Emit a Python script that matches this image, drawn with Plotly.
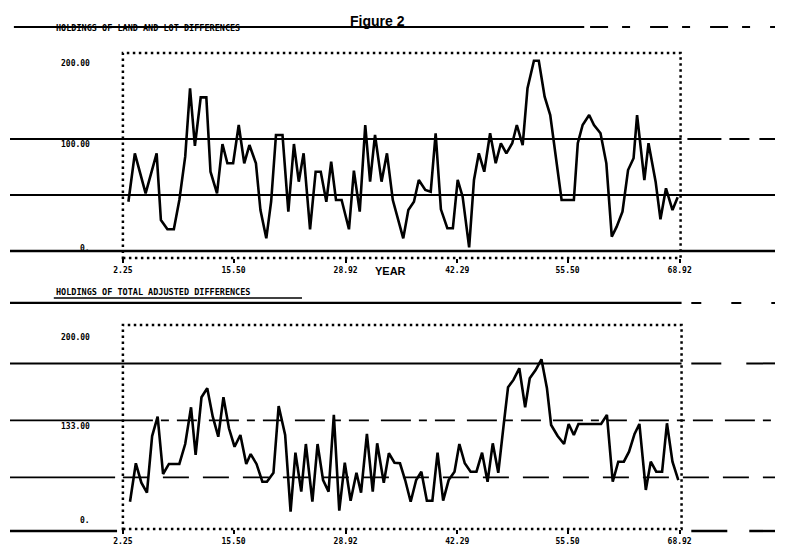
import plotly.graph_objects as go

# ---- data -------------------------------------------------------------
top_year = [2.91, 3.68, 4.97, 6.29, 6.80, 7.58, 8.35, 9.01, 9.71, 10.29,
            10.87, 11.57, 12.24, 12.74, 13.52, 14.17, 14.76, 15.45, 16.12, 16.78,
            17.40, 18.18, 18.72, 19.42, 20.00, 20.58, 21.36, 22.06, 22.73, 23.31,
            23.89, 24.66, 25.33, 25.94, 26.61, 27.19, 27.77, 28.44, 29.32, 29.91,
            30.61, 31.27, 31.85, 32.44, 33.22, 33.87, 34.57, 35.18, 35.82, 36.43,
            37.10, 37.68, 38.46, 39.11, 39.70, 40.33, 41.10, 41.76, 42.34, 42.93,
            43.71, 44.29, 44.87, 45.52, 46.22, 46.89, 47.51, 48.17, 48.87, 49.42,
            50.12, 50.70, 51.47, 52.05, 52.75, 53.42, 54.20, 54.78, 55.48, 56.25,
            56.72, 57.30, 58.08, 58.66, 59.44, 60.14, 60.79, 61.38, 62.07, 62.74,
            63.40, 63.82, 64.69, 65.19, 66.04, 66.62, 67.28, 68.06, 68.68]
top_value = [44.0, 87.2, 51.5, 87.2, 27.7, 19.4, 19.4, 45.5, 84.2, 145.3,
             93.8, 137.2, 137.2, 70.8, 51.5, 95.5, 78.3, 78.3, 112.5, 78.3,
             94.6, 78.3, 36.6, 11.3, 44.0, 103.6, 103.6, 35.1, 95.5, 61.9,
             87.2, 19.4, 70.8, 70.8, 44.0, 79.7, 45.5, 45.5, 19.4, 71.7,
             35.1, 112.5, 61.9, 103.6, 61.9, 87.2, 45.5, 27.7, 11.3, 36.6,
             44.0, 63.4, 54.5, 52.9, 105.1, 37.2, 20.3, 20.3, 63.4, 48.5,
             3.3, 63.4, 87.2, 70.8, 105.1, 78.3, 96.2, 87.2, 96.2, 112.5,
             94.6, 145.3, 169.9, 169.9, 137.8, 121.4, 79.7, 45.5, 45.5, 45.5,
             96.2, 112.5, 121.4, 112.5, 105.1, 78.3, 12.8, 21.7, 35.1, 72.3,
             82.8, 121.4, 63.4, 96.2, 61.9, 28.3, 56.0, 36.6, 47.9]

bottom_year = [3.10, 3.80, 4.46, 5.13, 5.75, 6.41, 7.06, 7.76, 8.35, 9.01,
               9.71, 10.41, 10.96, 11.66, 12.35, 13.01, 13.67, 14.29, 14.95, 15.62,
               16.32, 17.02, 17.55, 18.25, 18.95, 19.50, 20.28, 20.90, 21.68, 22.33,
               22.91, 23.61, 24.16, 24.94, 25.56, 26.22, 26.88, 27.51, 28.16, 28.82,
               29.52, 30.22, 30.77, 31.47, 32.17, 32.70, 33.49, 34.10, 34.77, 35.43,
               36.05, 36.71, 37.37, 37.99, 38.65, 39.31, 39.93, 40.60, 41.26, 41.96,
               42.54, 43.19, 43.89, 44.59, 45.26, 45.92, 46.54, 47.20, 47.86, 48.37,
               49.02, 49.72, 50.42, 50.97, 51.67, 52.37, 53.03, 53.53, 54.31, 55.08,
               55.63, 56.25, 56.80, 57.50, 58.19, 58.86, 59.51, 60.21, 60.91, 61.57,
               62.24, 62.86, 63.52, 64.10, 64.87, 65.46, 66.12, 66.82, 67.40, 68.06,
               68.76]
bottom_value = [25.7, 59.4, 42.4, 33.6, 83.3, 100.3, 50.0, 58.8, 58.8, 58.8,
                76.3, 108.5, 66.7, 117.3, 125.2, 100.3, 82.7, 117.3, 90.1, 73.9,
                84.2, 58.8, 67.5, 58.8, 43.2, 43.2, 51.1, 109.6, 84.2, 16.9,
                68.7, 34.5, 76.3, 25.7, 76.3, 44.7, 34.5, 101.8, 17.8, 59.9,
                26.6, 51.1, 33.6, 85.1, 34.5, 76.9, 42.4, 68.2, 59.9, 59.4,
                44.7, 25.7, 44.7, 52.0, 26.6, 26.6, 68.7, 26.6, 44.7, 52.0,
                76.3, 59.4, 52.0, 52.0, 68.7, 43.2, 76.9, 51.1, 93.9, 126.1,
                132.5, 142.7, 108.5, 133.9, 141.2, 150.6, 125.2, 93.0, 83.3, 76.3,
                93.9, 84.2, 93.9, 93.9, 93.9, 93.9, 93.9, 101.8, 43.2, 60.8,
                60.8, 69.6, 85.1, 93.9, 36.0, 60.8, 52.0, 52.0, 94.5, 60.8,
                44.7]

x_tick_vals = [2.25, 15.50, 28.92, 42.29, 55.50, 68.92]
x_tick_text = ["2.25", "15.50", "28.92", "42.29", "55.50", "68.92"]

top_ref_levels = [200, 100, 50, 0]
bottom_ref_levels = [200, 147, 97, 47, 0]

top_y_label_pos = [167, 95, 2.5]
top_y_label_text = ["200.00", "100.00", "0."]
bottom_y_label_pos = [170, 92, 9.6]
bottom_y_label_text = ["200.00", "133.00", "0."]

top_title = "HOLDINGS OF LAND AND LOT DIFFERENCES"
bottom_title = "HOLDINGS OF TOTAL ADJUSTED DIFFERENCES"

# ---- page geometry (pixels -> paper) -------------------------------------
W, H = 786, 555


def px(x):
    return x / W


def py(y):
    return 1 - y / H


INK = "black"
DOTS = "2.5px,3.5px"
TICK_FONT = dict(family="DejaVu Sans Mono", size=8, color=INK, weight="bold")
HEAD_FONT = dict(family="DejaVu Sans Mono", size=8.5, color=INK, weight="bold")

fig = go.Figure()
fig.add_trace(go.Scatter(x=top_year, y=top_value, xaxis="x", yaxis="y",
                         mode="lines", line=dict(color=INK, width=2.6),
                         hoverinfo="skip", showlegend=False))
fig.add_trace(go.Scatter(x=bottom_year, y=bottom_value, xaxis="x2", yaxis="y2",
                         mode="lines", line=dict(color=INK, width=2.6),
                         hoverinfo="skip", showlegend=False))

hidden_y = dict(visible=False, showgrid=False, zeroline=False, fixedrange=True)
x_common = dict(tickvals=x_tick_vals, ticktext=x_tick_text, ticks="outside",
                ticklen=4, tickwidth=2, tickcolor=INK, tickfont=TICK_FONT,
                showline=False, showgrid=False, zeroline=False, anchor="free")

shapes = []

# dotted frames around each panel
shapes.append(dict(type="rect", xref="x domain", yref="y", x0=0, x1=1,
                   y0=-6.25, y1=176.8, line=dict(color=INK, width=2.5, dash=DOTS)))
shapes.append(dict(type="rect", xref="x2 domain", yref="y2", x0=0, x1=1,
                   y0=1.75, y1=180.7, line=dict(color=INK, width=2.5, dash=DOTS)))


def ref_line(yref, level, pieces):
    for x0, x1, dash, width in pieces:
        shapes.append(dict(type="line", xref="paper", yref=yref,
                           x0=x0, x1=x1, y0=level, y1=level,
                           line=dict(color=INK, width=width, dash=dash)))


top_styles = [
    [(px(4), px(590), "solid", 2.2), (px(596), 1.0, "18px,14px,8px,20px", 2.2)],
    [(0.0, px(690), "solid", 1.8), (px(696), 1.0, "34px,8px,20px,10px", 2.2)],
    [(0.0, 1.0, "solid", 1.8)],
    [(0.0, 1.0, "solid", 2.4)],
]
for level, pieces in zip(top_ref_levels, top_styles):
    ref_line("y", level, pieces)

bottom_styles = [
    [(0.0, px(690), "solid", 2.2), (px(700), 1.0, "10px,30px", 2.0)],
    [(0.0, px(690), "solid", 2.0), (px(700), 1.0, "30px,25px", 2.0)],
    [(0.0, px(116), "solid", 1.8), (px(116), 1.0, "30px,8px,8px,8px,20px,12px", 1.8)],
    [(0.0, px(108), "solid", 1.6), (px(116), 1.0, "26px,14px", 1.6)],
    [(0.0, px(110), "solid", 2.4), (px(700), 1.0, "36px,22px", 2.4)],
]
for level, pieces in zip(bottom_ref_levels, bottom_styles):
    ref_line("y2", level, pieces)

# underline beneath the lower panel heading
shapes.append(dict(type="line", xref="paper", yref="paper",
                   x0=px(45), x1=px(300), y0=py(298), y1=py(298),
                   line=dict(color=INK, width=1.5)))

annotations = [
    dict(text="<b>Figure 2</b>", x=px(378), y=py(11), xref="paper", yref="paper",
         showarrow=False, font=dict(family="Liberation Sans", size=14, color=INK)),
    dict(text="<b>YEAR</b>", x=px(391), y=py(271), xref="paper", yref="paper",
         showarrow=False, font=dict(family="Liberation Sans", size=11, color=INK)),
    dict(text=top_title, x=px(45), y=py(21), xref="paper", yref="paper",
         xanchor="left", showarrow=False, font=HEAD_FONT),
    dict(text=bottom_title, x=px(45), y=py(292), xref="paper", yref="paper",
         xanchor="left", showarrow=False, font=HEAD_FONT),
]
for yref, pos_list, txt_list in (("y", top_y_label_pos, top_y_label_text),
                                 ("y2", bottom_y_label_pos, bottom_y_label_text)):
    for v, t in zip(pos_list, txt_list):
        annotations.append(dict(text=t, x=px(84), y=v, xref="paper", yref=yref,
                                xanchor="right", showarrow=False, font=TICK_FONT))

fig.update_layout(
    width=W, height=H,
    margin=dict(l=0, r=0, t=0, b=0),
    paper_bgcolor="white", plot_bgcolor="rgba(0,0,0,0)",
    showlegend=False,
    xaxis=dict(domain=[px(116), px(689)], range=[2.25, 69.03],
               position=py(258), **x_common),
    yaxis=dict(domain=[py(262), py(20)], range=[-9.82, 206.25], **hidden_y),
    xaxis2=dict(domain=[px(116), px(690)], range=[2.25, 69.15],
                position=py(529), **x_common),
    yaxis2=dict(domain=[py(535), py(300)], range=[-3.5, 202.6], **hidden_y),
    shapes=shapes,
    annotations=annotations,
)

fig.write_html("out.html")
